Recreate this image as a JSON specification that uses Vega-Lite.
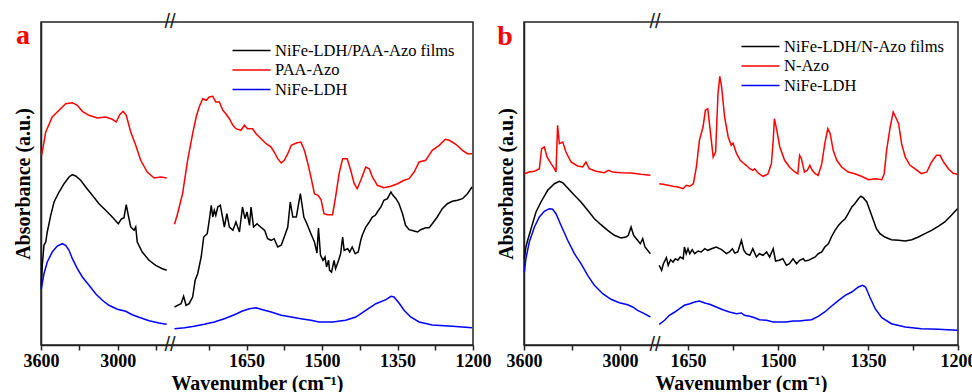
{
"$schema": "https://vega.github.io/schema/vega-lite/v6.json",
"padding": {"left": 12, "top": 11, "right": 5, "bottom": 0},
"bounds": "flush",
"spacing": 51,
"config": {
  "font": "Liberation Serif",
  "view": {"stroke": "#222", "strokeWidth": 1.5},
  "axis": {"grid": false, "labelOverlap": false, "domainColor": "#222", "domainWidth": 1.5, "tickColor": "#222", "tickWidth": 1.5, "labelFont": "Liberation Serif", "labelFontSize": 18, "labelFontWeight": "bold", "labelColor": "#000", "titleFont": "Liberation Serif", "titleFontSize": 20, "titleFontWeight": "bold", "titleColor": "#000"},
  "legend": {"symbolType": "M-2,0H2", "symbolStrokeWidth": 1.5, "symbolSize": 361, "labelFont": "Liberation Serif", "labelFontSize": 16.5, "labelColor": "#000", "labelLimit": 400, "rowPadding": 0.5, "labelOffset": 13, "padding": 0}
},
"resolve": {"scale": {"color": "independent", "x": "independent", "y": "independent"}, "legend": {"color": "independent"}},
"datasets": {
"a": [
{"s":"PAA-Azo","g":"L","x":3595,"y":189.7},{"s":"PAA-Azo","g":"L","x":3563,"y":213},{"s":"PAA-Azo","g":"L","x":3512,"y":228},{"s":"PAA-Azo","g":"L","x":3459,"y":234.7},{"s":"PAA-Azo","g":"L","x":3407,"y":241.3},{"s":"PAA-Azo","g":"L","x":3355,"y":242.3},{"s":"PAA-Azo","g":"L","x":3316,"y":239.7},{"s":"PAA-Azo","g":"L","x":3277,"y":233.7},{"s":"PAA-Azo","g":"L","x":3225,"y":229.7},{"s":"PAA-Azo","g":"L","x":3160,"y":227},{"s":"PAA-Azo","g":"L","x":3095,"y":228},{"s":"PAA-Azo","g":"L","x":3043,"y":225.7},{"s":"PAA-Azo","g":"L","x":3012,"y":223},{"s":"PAA-Azo","g":"L","x":2985,"y":230.3},{"s":"PAA-Azo","g":"L","x":2959,"y":233.7},{"s":"PAA-Azo","g":"L","x":2934,"y":229.7},{"s":"PAA-Azo","g":"L","x":2899,"y":213},{"s":"PAA-Azo","g":"L","x":2860,"y":199.7},{"s":"PAA-Azo","g":"L","x":2821,"y":184.7},{"s":"PAA-Azo","g":"L","x":2770,"y":173},{"s":"PAA-Azo","g":"L","x":2716,"y":167},{"s":"PAA-Azo","g":"L","x":2665,"y":168},{"s":"PAA-Azo","g":"L","x":2618,"y":167},
{"s":"PAA-Azo","g":"R","x":1793,"y":120.7},{"s":"PAA-Azo","g":"R","x":1787,"y":131.3},{"s":"PAA-Azo","g":"R","x":1777,"y":151.3},{"s":"PAA-Azo","g":"R","x":1767,"y":184.7},{"s":"PAA-Azo","g":"R","x":1757,"y":211.3},{"s":"PAA-Azo","g":"R","x":1750,"y":228},{"s":"PAA-Azo","g":"R","x":1744,"y":238},{"s":"PAA-Azo","g":"R","x":1737,"y":246.3},{"s":"PAA-Azo","g":"R","x":1730,"y":244.7},{"s":"PAA-Azo","g":"R","x":1724,"y":248},{"s":"PAA-Azo","g":"R","x":1717,"y":248.7},{"s":"PAA-Azo","g":"R","x":1711,"y":243},{"s":"PAA-Azo","g":"R","x":1704,"y":243},{"s":"PAA-Azo","g":"R","x":1697,"y":234.7},{"s":"PAA-Azo","g":"R","x":1691,"y":231.3},{"s":"PAA-Azo","g":"R","x":1684,"y":226.3},{"s":"PAA-Azo","g":"R","x":1677,"y":219.7},{"s":"PAA-Azo","g":"R","x":1671,"y":216.3},{"s":"PAA-Azo","g":"R","x":1661,"y":214.7},{"s":"PAA-Azo","g":"R","x":1654,"y":219.7},{"s":"PAA-Azo","g":"R","x":1648,"y":216.3},{"s":"PAA-Azo","g":"R","x":1638,"y":216.3},{"s":"PAA-Azo","g":"R","x":1631,"y":211.3},{"s":"PAA-Azo","g":"R","x":1621,"y":206.3},{"s":"PAA-Azo","g":"R","x":1611,"y":201.3},{"s":"PAA-Azo","g":"R","x":1601,"y":198},{"s":"PAA-Azo","g":"R","x":1595,"y":193},{"s":"PAA-Azo","g":"R","x":1588,"y":186.3},{"s":"PAA-Azo","g":"R","x":1581,"y":182},{"s":"PAA-Azo","g":"R","x":1575,"y":184.7},{"s":"PAA-Azo","g":"R","x":1568,"y":191.3},{"s":"PAA-Azo","g":"R","x":1561,"y":199.7},{"s":"PAA-Azo","g":"R","x":1551,"y":202},{"s":"PAA-Azo","g":"R","x":1542,"y":203},{"s":"PAA-Azo","g":"R","x":1535,"y":194.7},{"s":"PAA-Azo","g":"R","x":1528,"y":181.3},{"s":"PAA-Azo","g":"R","x":1522,"y":168},{"s":"PAA-Azo","g":"R","x":1515,"y":151.3},{"s":"PAA-Azo","g":"R","x":1508,"y":149.7},{"s":"PAA-Azo","g":"R","x":1502,"y":145.5},{"s":"PAA-Azo","g":"R","x":1496,"y":131.3},{"s":"PAA-Azo","g":"R","x":1489,"y":130.3},{"s":"PAA-Azo","g":"R","x":1479,"y":130.3},{"s":"PAA-Azo","g":"R","x":1473,"y":148},{"s":"PAA-Azo","g":"R","x":1466,"y":171.3},{"s":"PAA-Azo","g":"R","x":1459,"y":186.3},{"s":"PAA-Azo","g":"R","x":1450,"y":186.3},{"s":"PAA-Azo","g":"R","x":1443,"y":174.7},{"s":"PAA-Azo","g":"R","x":1436,"y":161.3},{"s":"PAA-Azo","g":"R","x":1430,"y":156.3},{"s":"PAA-Azo","g":"R","x":1423,"y":164.7},{"s":"PAA-Azo","g":"R","x":1413,"y":178},{"s":"PAA-Azo","g":"R","x":1406,"y":176.3},{"s":"PAA-Azo","g":"R","x":1400,"y":168},{"s":"PAA-Azo","g":"R","x":1390,"y":159.7},{"s":"PAA-Azo","g":"R","x":1377,"y":157.3},{"s":"PAA-Azo","g":"R","x":1363,"y":158.7},{"s":"PAA-Azo","g":"R","x":1350,"y":161.3},{"s":"PAA-Azo","g":"R","x":1337,"y":164.7},{"s":"PAA-Azo","g":"R","x":1327,"y":166.3},{"s":"PAA-Azo","g":"R","x":1317,"y":173},{"s":"PAA-Azo","g":"R","x":1307,"y":183},{"s":"PAA-Azo","g":"R","x":1294,"y":184.7},{"s":"PAA-Azo","g":"R","x":1281,"y":194.7},{"s":"PAA-Azo","g":"R","x":1267,"y":199.7},{"s":"PAA-Azo","g":"R","x":1255,"y":205.7},{"s":"PAA-Azo","g":"R","x":1247,"y":204.7},{"s":"PAA-Azo","g":"R","x":1234,"y":200.7},{"s":"PAA-Azo","g":"R","x":1221,"y":194.7},{"s":"PAA-Azo","g":"R","x":1211,"y":191.3},{"s":"PAA-Azo","g":"R","x":1202,"y":191.3},
{"s":"NiFe-LDH/PAA-Azo films","g":"L","x":3598,"y":58},{"s":"NiFe-LDH/PAA-Azo films","g":"L","x":3595,"y":66.3},{"s":"NiFe-LDH/PAA-Azo films","g":"L","x":3590,"y":79.7},{"s":"NiFe-LDH/PAA-Azo films","g":"L","x":3577,"y":99.7},{"s":"NiFe-LDH/PAA-Azo films","g":"L","x":3563,"y":103},{"s":"NiFe-LDH/PAA-Azo films","g":"L","x":3551,"y":113},{"s":"NiFe-LDH/PAA-Azo films","g":"L","x":3524,"y":129.7},{"s":"NiFe-LDH/PAA-Azo films","g":"L","x":3498,"y":143},{"s":"NiFe-LDH/PAA-Azo films","g":"L","x":3459,"y":153},{"s":"NiFe-LDH/PAA-Azo films","g":"L","x":3420,"y":161.3},{"s":"NiFe-LDH/PAA-Azo films","g":"L","x":3381,"y":168},{"s":"NiFe-LDH/PAA-Azo films","g":"L","x":3355,"y":170.3},{"s":"NiFe-LDH/PAA-Azo films","g":"L","x":3329,"y":169},{"s":"NiFe-LDH/PAA-Azo films","g":"L","x":3290,"y":164.7},{"s":"NiFe-LDH/PAA-Azo films","g":"L","x":3251,"y":158},{"s":"NiFe-LDH/PAA-Azo films","g":"L","x":3199,"y":149.7},{"s":"NiFe-LDH/PAA-Azo films","g":"L","x":3147,"y":141.3},{"s":"NiFe-LDH/PAA-Azo films","g":"L","x":3095,"y":134.7},{"s":"NiFe-LDH/PAA-Azo films","g":"L","x":3043,"y":128},{"s":"NiFe-LDH/PAA-Azo films","g":"L","x":2996,"y":121.3},{"s":"NiFe-LDH/PAA-Azo films","g":"L","x":2970,"y":126.3},{"s":"NiFe-LDH/PAA-Azo films","g":"L","x":2952,"y":127},{"s":"NiFe-LDH/PAA-Azo films","g":"L","x":2934,"y":140.3},{"s":"NiFe-LDH/PAA-Azo films","g":"L","x":2918,"y":129.7},{"s":"NiFe-LDH/PAA-Azo films","g":"L","x":2899,"y":118},{"s":"NiFe-LDH/PAA-Azo films","g":"L","x":2873,"y":114.7},{"s":"NiFe-LDH/PAA-Azo films","g":"L","x":2860,"y":118},{"s":"NiFe-LDH/PAA-Azo films","g":"L","x":2848,"y":103},{"s":"NiFe-LDH/PAA-Azo films","g":"L","x":2809,"y":93},{"s":"NiFe-LDH/PAA-Azo films","g":"L","x":2756,"y":84.7},{"s":"NiFe-LDH/PAA-Azo films","g":"L","x":2704,"y":79.7},{"s":"NiFe-LDH/PAA-Azo films","g":"L","x":2652,"y":76.3},{"s":"NiFe-LDH/PAA-Azo films","g":"L","x":2618,"y":74.7},
{"s":"NiFe-LDH/PAA-Azo films","g":"R","x":1793,"y":38},{"s":"NiFe-LDH/PAA-Azo films","g":"R","x":1787,"y":39.7},{"s":"NiFe-LDH/PAA-Azo films","g":"R","x":1780,"y":41.3},{"s":"NiFe-LDH/PAA-Azo films","g":"R","x":1775,"y":48.7},{"s":"NiFe-LDH/PAA-Azo films","g":"R","x":1770,"y":39.7},{"s":"NiFe-LDH/PAA-Azo films","g":"R","x":1764,"y":41.3},{"s":"NiFe-LDH/PAA-Azo films","g":"R","x":1757,"y":48},{"s":"NiFe-LDH/PAA-Azo films","g":"R","x":1752,"y":64.7},{"s":"NiFe-LDH/PAA-Azo films","g":"R","x":1747,"y":71.3},{"s":"NiFe-LDH/PAA-Azo films","g":"R","x":1740,"y":88},{"s":"NiFe-LDH/PAA-Azo films","g":"R","x":1735,"y":108},{"s":"NiFe-LDH/PAA-Azo films","g":"R","x":1728,"y":111.3},{"s":"NiFe-LDH/PAA-Azo films","g":"R","x":1724,"y":124.7},{"s":"NiFe-LDH/PAA-Azo films","g":"R","x":1720,"y":139.7},{"s":"NiFe-LDH/PAA-Azo films","g":"R","x":1717,"y":128},{"s":"NiFe-LDH/PAA-Azo films","g":"R","x":1714,"y":134.7},{"s":"NiFe-LDH/PAA-Azo films","g":"R","x":1711,"y":129.7},{"s":"NiFe-LDH/PAA-Azo films","g":"R","x":1707,"y":138},{"s":"NiFe-LDH/PAA-Azo films","g":"R","x":1702,"y":139.7},{"s":"NiFe-LDH/PAA-Azo films","g":"R","x":1697,"y":126.3},{"s":"NiFe-LDH/PAA-Azo films","g":"R","x":1694,"y":118},{"s":"NiFe-LDH/PAA-Azo films","g":"R","x":1689,"y":131.3},{"s":"NiFe-LDH/PAA-Azo films","g":"R","x":1684,"y":118},{"s":"NiFe-LDH/PAA-Azo films","g":"R","x":1677,"y":114.7},{"s":"NiFe-LDH/PAA-Azo films","g":"R","x":1671,"y":123},{"s":"NiFe-LDH/PAA-Azo films","g":"R","x":1664,"y":113},{"s":"NiFe-LDH/PAA-Azo films","g":"R","x":1658,"y":138},{"s":"NiFe-LDH/PAA-Azo films","g":"R","x":1653,"y":126.3},{"s":"NiFe-LDH/PAA-Azo films","g":"R","x":1649,"y":133},{"s":"NiFe-LDH/PAA-Azo films","g":"R","x":1644,"y":119.7},{"s":"NiFe-LDH/PAA-Azo films","g":"R","x":1641,"y":138},{"s":"NiFe-LDH/PAA-Azo films","g":"R","x":1636,"y":118},{"s":"NiFe-LDH/PAA-Azo films","g":"R","x":1629,"y":121.3},{"s":"NiFe-LDH/PAA-Azo films","g":"R","x":1622,"y":118},{"s":"NiFe-LDH/PAA-Azo films","g":"R","x":1614,"y":114.7},{"s":"NiFe-LDH/PAA-Azo films","g":"R","x":1608,"y":106.3},{"s":"NiFe-LDH/PAA-Azo films","g":"R","x":1601,"y":104.7},{"s":"NiFe-LDH/PAA-Azo films","g":"R","x":1595,"y":106.3},{"s":"NiFe-LDH/PAA-Azo films","g":"R","x":1588,"y":98},{"s":"NiFe-LDH/PAA-Azo films","g":"R","x":1581,"y":99.7},{"s":"NiFe-LDH/PAA-Azo films","g":"R","x":1575,"y":108},{"s":"NiFe-LDH/PAA-Azo films","g":"R","x":1568,"y":118},{"s":"NiFe-LDH/PAA-Azo films","g":"R","x":1563,"y":143},{"s":"NiFe-LDH/PAA-Azo films","g":"R","x":1558,"y":128},{"s":"NiFe-LDH/PAA-Azo films","g":"R","x":1551,"y":128},{"s":"NiFe-LDH/PAA-Azo films","g":"R","x":1543,"y":151.3},{"s":"NiFe-LDH/PAA-Azo films","g":"R","x":1536,"y":128},{"s":"NiFe-LDH/PAA-Azo films","g":"R","x":1530,"y":121.3},{"s":"NiFe-LDH/PAA-Azo films","g":"R","x":1522,"y":111.3},{"s":"NiFe-LDH/PAA-Azo films","g":"R","x":1515,"y":103},{"s":"NiFe-LDH/PAA-Azo films","g":"R","x":1510,"y":92},{"s":"NiFe-LDH/PAA-Azo films","g":"R","x":1507,"y":117},{"s":"NiFe-LDH/PAA-Azo films","g":"R","x":1503,"y":90},{"s":"NiFe-LDH/PAA-Azo films","g":"R","x":1498,"y":84.7},{"s":"NiFe-LDH/PAA-Azo films","g":"R","x":1494,"y":88},{"s":"NiFe-LDH/PAA-Azo films","g":"R","x":1491,"y":78},{"s":"NiFe-LDH/PAA-Azo films","g":"R","x":1487,"y":84.7},{"s":"NiFe-LDH/PAA-Azo films","g":"R","x":1485,"y":74.7},{"s":"NiFe-LDH/PAA-Azo films","g":"R","x":1481,"y":73},{"s":"NiFe-LDH/PAA-Azo films","g":"R","x":1476,"y":84.7},{"s":"NiFe-LDH/PAA-Azo films","g":"R","x":1473,"y":76.3},{"s":"NiFe-LDH/PAA-Azo films","g":"R","x":1467,"y":84.7},{"s":"NiFe-LDH/PAA-Azo films","g":"R","x":1463,"y":91.3},{"s":"NiFe-LDH/PAA-Azo films","g":"R","x":1459,"y":108},{"s":"NiFe-LDH/PAA-Azo films","g":"R","x":1456,"y":94.7},{"s":"NiFe-LDH/PAA-Azo films","g":"R","x":1449,"y":96.3},{"s":"NiFe-LDH/PAA-Azo films","g":"R","x":1445,"y":93},{"s":"NiFe-LDH/PAA-Azo films","g":"R","x":1440,"y":98},{"s":"NiFe-LDH/PAA-Azo films","g":"R","x":1434,"y":91.3},{"s":"NiFe-LDH/PAA-Azo films","g":"R","x":1428,"y":93},{"s":"NiFe-LDH/PAA-Azo films","g":"R","x":1423,"y":104.7},{"s":"NiFe-LDH/PAA-Azo films","g":"R","x":1420,"y":109.7},{"s":"NiFe-LDH/PAA-Azo films","g":"R","x":1413,"y":118},{"s":"NiFe-LDH/PAA-Azo films","g":"R","x":1406,"y":123},{"s":"NiFe-LDH/PAA-Azo films","g":"R","x":1400,"y":128},{"s":"NiFe-LDH/PAA-Azo films","g":"R","x":1394,"y":129.7},{"s":"NiFe-LDH/PAA-Azo films","g":"R","x":1390,"y":133},{"s":"NiFe-LDH/PAA-Azo films","g":"R","x":1383,"y":138},{"s":"NiFe-LDH/PAA-Azo films","g":"R","x":1377,"y":144.7},{"s":"NiFe-LDH/PAA-Azo films","g":"R","x":1370,"y":146.3},{"s":"NiFe-LDH/PAA-Azo films","g":"R","x":1363,"y":153},{"s":"NiFe-LDH/PAA-Azo films","g":"R","x":1359,"y":149.7},{"s":"NiFe-LDH/PAA-Azo films","g":"R","x":1353,"y":146.3},{"s":"NiFe-LDH/PAA-Azo films","g":"R","x":1347,"y":141.3},{"s":"NiFe-LDH/PAA-Azo films","g":"R","x":1340,"y":131.3},{"s":"NiFe-LDH/PAA-Azo films","g":"R","x":1334,"y":119.7},{"s":"NiFe-LDH/PAA-Azo films","g":"R","x":1327,"y":115.3},{"s":"NiFe-LDH/PAA-Azo films","g":"R","x":1317,"y":114},{"s":"NiFe-LDH/PAA-Azo films","g":"R","x":1310,"y":113},{"s":"NiFe-LDH/PAA-Azo films","g":"R","x":1304,"y":115.3},{"s":"NiFe-LDH/PAA-Azo films","g":"R","x":1294,"y":117.3},{"s":"NiFe-LDH/PAA-Azo films","g":"R","x":1287,"y":117.3},{"s":"NiFe-LDH/PAA-Azo films","g":"R","x":1281,"y":121.3},{"s":"NiFe-LDH/PAA-Azo films","g":"R","x":1271,"y":128},{"s":"NiFe-LDH/PAA-Azo films","g":"R","x":1261,"y":136.3},{"s":"NiFe-LDH/PAA-Azo films","g":"R","x":1251,"y":141.3},{"s":"NiFe-LDH/PAA-Azo films","g":"R","x":1241,"y":143.7},{"s":"NiFe-LDH/PAA-Azo films","g":"R","x":1231,"y":144.7},{"s":"NiFe-LDH/PAA-Azo films","g":"R","x":1221,"y":146.3},{"s":"NiFe-LDH/PAA-Azo films","g":"R","x":1211,"y":151.3},{"s":"NiFe-LDH/PAA-Azo films","g":"R","x":1202,"y":158},
{"s":"NiFe-LDH","g":"L","x":3598,"y":56},{"s":"NiFe-LDH","g":"L","x":3577,"y":71.3},{"s":"NiFe-LDH","g":"L","x":3551,"y":83},{"s":"NiFe-LDH","g":"L","x":3512,"y":93},{"s":"NiFe-LDH","g":"L","x":3473,"y":99},{"s":"NiFe-LDH","g":"L","x":3434,"y":101.3},{"s":"NiFe-LDH","g":"L","x":3407,"y":99.7},{"s":"NiFe-LDH","g":"L","x":3381,"y":94.7},{"s":"NiFe-LDH","g":"L","x":3355,"y":86.3},{"s":"NiFe-LDH","g":"L","x":3316,"y":76.3},{"s":"NiFe-LDH","g":"L","x":3277,"y":68},{"s":"NiFe-LDH","g":"L","x":3225,"y":59.7},{"s":"NiFe-LDH","g":"L","x":3173,"y":51.3},{"s":"NiFe-LDH","g":"L","x":3121,"y":44.7},{"s":"NiFe-LDH","g":"L","x":3069,"y":39.7},{"s":"NiFe-LDH","g":"L","x":3004,"y":35.7},{"s":"NiFe-LDH","g":"L","x":2938,"y":33.7},{"s":"NiFe-LDH","g":"L","x":2887,"y":30.3},{"s":"NiFe-LDH","g":"L","x":2834,"y":27.7},{"s":"NiFe-LDH","g":"L","x":2756,"y":24.3},{"s":"NiFe-LDH","g":"L","x":2678,"y":22},{"s":"NiFe-LDH","g":"L","x":2618,"y":20.7},
{"s":"NiFe-LDH","g":"R","x":1793,"y":16.3},{"s":"NiFe-LDH","g":"R","x":1773,"y":17.3},{"s":"NiFe-LDH","g":"R","x":1754,"y":18.7},{"s":"NiFe-LDH","g":"R","x":1734,"y":20.7},{"s":"NiFe-LDH","g":"R","x":1714,"y":23},{"s":"NiFe-LDH","g":"R","x":1694,"y":26.3},{"s":"NiFe-LDH","g":"R","x":1674,"y":30.3},{"s":"NiFe-LDH","g":"R","x":1658,"y":34},{"s":"NiFe-LDH","g":"R","x":1644,"y":36.3},{"s":"NiFe-LDH","g":"R","x":1631,"y":37.3},{"s":"NiFe-LDH","g":"R","x":1618,"y":35.3},{"s":"NiFe-LDH","g":"R","x":1601,"y":33},{"s":"NiFe-LDH","g":"R","x":1581,"y":29.7},{"s":"NiFe-LDH","g":"R","x":1561,"y":28},{"s":"NiFe-LDH","g":"R","x":1542,"y":26.3},{"s":"NiFe-LDH","g":"R","x":1522,"y":24.7},{"s":"NiFe-LDH","g":"R","x":1506,"y":23},{"s":"NiFe-LDH","g":"R","x":1479,"y":23},{"s":"NiFe-LDH","g":"R","x":1453,"y":24.7},{"s":"NiFe-LDH","g":"R","x":1433,"y":28},{"s":"NiFe-LDH","g":"R","x":1413,"y":34.7},{"s":"NiFe-LDH","g":"R","x":1393,"y":41.3},{"s":"NiFe-LDH","g":"R","x":1373,"y":45.3},{"s":"NiFe-LDH","g":"R","x":1363,"y":48.7},{"s":"NiFe-LDH","g":"R","x":1357,"y":48},{"s":"NiFe-LDH","g":"R","x":1347,"y":42},{"s":"NiFe-LDH","g":"R","x":1337,"y":34.7},{"s":"NiFe-LDH","g":"R","x":1324,"y":28},{"s":"NiFe-LDH","g":"R","x":1307,"y":23},{"s":"NiFe-LDH","g":"R","x":1281,"y":20},{"s":"NiFe-LDH","g":"R","x":1241,"y":18.7},{"s":"NiFe-LDH","g":"R","x":1202,"y":17.3}
],
"b": [
{"s":"N-Azo","g":"L","x":3598,"y":171.3},{"s":"N-Azo","g":"L","x":3567,"y":173},{"s":"N-Azo","g":"L","x":3535,"y":173.7},{"s":"N-Azo","g":"L","x":3504,"y":176.3},{"s":"N-Azo","g":"L","x":3490,"y":196.3},{"s":"N-Azo","g":"L","x":3473,"y":198},{"s":"N-Azo","g":"L","x":3456,"y":188},{"s":"N-Azo","g":"L","x":3431,"y":181.3},{"s":"N-Azo","g":"L","x":3410,"y":176.3},{"s":"N-Azo","g":"L","x":3400,"y":173},{"s":"N-Azo","g":"L","x":3390,"y":219.7},{"s":"N-Azo","g":"L","x":3379,"y":201.3},{"s":"N-Azo","g":"L","x":3358,"y":203},{"s":"N-Azo","g":"L","x":3338,"y":193},{"s":"N-Azo","g":"L","x":3306,"y":183},{"s":"N-Azo","g":"L","x":3265,"y":179},{"s":"N-Azo","g":"L","x":3233,"y":178},{"s":"N-Azo","g":"L","x":3213,"y":183},{"s":"N-Azo","g":"L","x":3192,"y":176.3},{"s":"N-Azo","g":"L","x":3150,"y":173.7},{"s":"N-Azo","g":"L","x":3098,"y":172.3},{"s":"N-Azo","g":"L","x":3073,"y":174.7},{"s":"N-Azo","g":"L","x":3046,"y":173},{"s":"N-Azo","g":"L","x":2994,"y":172.3},{"s":"N-Azo","g":"L","x":2931,"y":172},{"s":"N-Azo","g":"L","x":2869,"y":170.7},{"s":"N-Azo","g":"L","x":2810,"y":169.7},
{"s":"N-Azo","g":"R","x":1698,"y":161.3},{"s":"N-Azo","g":"R","x":1692,"y":160.7},{"s":"N-Azo","g":"R","x":1683,"y":159.7},{"s":"N-Azo","g":"R","x":1675,"y":158.7},{"s":"N-Azo","g":"R","x":1667,"y":158},{"s":"N-Azo","g":"R","x":1658,"y":156.3},{"s":"N-Azo","g":"R","x":1653,"y":159.7},{"s":"N-Azo","g":"R","x":1647,"y":158.7},{"s":"N-Azo","g":"R","x":1641,"y":161.3},{"s":"N-Azo","g":"R","x":1636,"y":178},{"s":"N-Azo","g":"R","x":1631,"y":204.7},{"s":"N-Azo","g":"R","x":1625,"y":218},{"s":"N-Azo","g":"R","x":1621,"y":234.7},{"s":"N-Azo","g":"R","x":1617,"y":236.3},{"s":"N-Azo","g":"R","x":1613,"y":214.7},{"s":"N-Azo","g":"R","x":1608,"y":188},{"s":"N-Azo","g":"R","x":1604,"y":193},{"s":"N-Azo","g":"R","x":1600,"y":251.3},{"s":"N-Azo","g":"R","x":1597,"y":268.7},{"s":"N-Azo","g":"R","x":1594,"y":258},{"s":"N-Azo","g":"R","x":1589,"y":228},{"s":"N-Azo","g":"R","x":1583,"y":208},{"s":"N-Azo","g":"R","x":1578,"y":199.7},{"s":"N-Azo","g":"R","x":1575,"y":202},{"s":"N-Azo","g":"R","x":1569,"y":191.3},{"s":"N-Azo","g":"R","x":1563,"y":184.7},{"s":"N-Azo","g":"R","x":1558,"y":182},{"s":"N-Azo","g":"R","x":1553,"y":179.7},{"s":"N-Azo","g":"R","x":1547,"y":176.3},{"s":"N-Azo","g":"R","x":1542,"y":174.7},{"s":"N-Azo","g":"R","x":1539,"y":176.3},{"s":"N-Azo","g":"R","x":1533,"y":172},{"s":"N-Azo","g":"R","x":1525,"y":168.7},{"s":"N-Azo","g":"R","x":1517,"y":170.7},{"s":"N-Azo","g":"R","x":1511,"y":181.3},{"s":"N-Azo","g":"R","x":1508,"y":204.7},{"s":"N-Azo","g":"R","x":1506,"y":226.3},{"s":"N-Azo","g":"R","x":1502,"y":214.7},{"s":"N-Azo","g":"R","x":1497,"y":198},{"s":"N-Azo","g":"R","x":1489,"y":184.7},{"s":"N-Azo","g":"R","x":1481,"y":178},{"s":"N-Azo","g":"R","x":1472,"y":173},{"s":"N-Azo","g":"R","x":1467,"y":171.3},{"s":"N-Azo","g":"R","x":1464,"y":189.7},{"s":"N-Azo","g":"R","x":1461,"y":186.3},{"s":"N-Azo","g":"R","x":1456,"y":173},{"s":"N-Azo","g":"R","x":1451,"y":174.7},{"s":"N-Azo","g":"R","x":1447,"y":179.7},{"s":"N-Azo","g":"R","x":1443,"y":174.7},{"s":"N-Azo","g":"R","x":1438,"y":171.3},{"s":"N-Azo","g":"R","x":1433,"y":169.7},{"s":"N-Azo","g":"R","x":1427,"y":181.3},{"s":"N-Azo","g":"R","x":1422,"y":201.3},{"s":"N-Azo","g":"R","x":1417,"y":216.3},{"s":"N-Azo","g":"R","x":1413,"y":211.3},{"s":"N-Azo","g":"R","x":1408,"y":194.7},{"s":"N-Azo","g":"R","x":1402,"y":184.7},{"s":"N-Azo","g":"R","x":1394,"y":178},{"s":"N-Azo","g":"R","x":1383,"y":173},{"s":"N-Azo","g":"R","x":1372,"y":171.3},{"s":"N-Azo","g":"R","x":1361,"y":168.7},{"s":"N-Azo","g":"R","x":1349,"y":165.3},{"s":"N-Azo","g":"R","x":1338,"y":166.3},{"s":"N-Azo","g":"R","x":1327,"y":165.3},{"s":"N-Azo","g":"R","x":1323,"y":171.3},{"s":"N-Azo","g":"R","x":1319,"y":194.7},{"s":"N-Azo","g":"R","x":1313,"y":218},{"s":"N-Azo","g":"R","x":1308,"y":233},{"s":"N-Azo","g":"R","x":1304,"y":228},{"s":"N-Azo","g":"R","x":1299,"y":221.3},{"s":"N-Azo","g":"R","x":1294,"y":201.3},{"s":"N-Azo","g":"R","x":1288,"y":188},{"s":"N-Azo","g":"R","x":1280,"y":179.7},{"s":"N-Azo","g":"R","x":1272,"y":176.3},{"s":"N-Azo","g":"R","x":1261,"y":171.3},{"s":"N-Azo","g":"R","x":1252,"y":173},{"s":"N-Azo","g":"R","x":1244,"y":183},{"s":"N-Azo","g":"R","x":1236,"y":189.7},{"s":"N-Azo","g":"R","x":1230,"y":189.7},{"s":"N-Azo","g":"R","x":1224,"y":183},{"s":"N-Azo","g":"R","x":1216,"y":176.3},{"s":"N-Azo","g":"R","x":1208,"y":171.7},{"s":"N-Azo","g":"R","x":1201,"y":170.7},
{"s":"NiFe-LDH/N-Azo films","g":"L","x":3598,"y":86.3},{"s":"NiFe-LDH/N-Azo films","g":"L","x":3588,"y":98},{"s":"NiFe-LDH/N-Azo films","g":"L","x":3577,"y":104.7},{"s":"NiFe-LDH/N-Azo films","g":"L","x":3556,"y":116.3},{"s":"NiFe-LDH/N-Azo films","g":"L","x":3525,"y":133},{"s":"NiFe-LDH/N-Azo films","g":"L","x":3494,"y":143},{"s":"NiFe-LDH/N-Azo films","g":"L","x":3452,"y":154.7},{"s":"NiFe-LDH/N-Azo films","g":"L","x":3410,"y":161.3},{"s":"NiFe-LDH/N-Azo films","g":"L","x":3379,"y":163.7},{"s":"NiFe-LDH/N-Azo films","g":"L","x":3358,"y":162.3},{"s":"NiFe-LDH/N-Azo films","g":"L","x":3327,"y":157},{"s":"NiFe-LDH/N-Azo films","g":"L","x":3285,"y":149.7},{"s":"NiFe-LDH/N-Azo films","g":"L","x":3244,"y":143},{"s":"NiFe-LDH/N-Azo films","g":"L","x":3202,"y":134.7},{"s":"NiFe-LDH/N-Azo films","g":"L","x":3160,"y":126.3},{"s":"NiFe-LDH/N-Azo films","g":"L","x":3119,"y":120.3},{"s":"NiFe-LDH/N-Azo films","g":"L","x":3077,"y":114.7},{"s":"NiFe-LDH/N-Azo films","g":"L","x":3035,"y":109.7},{"s":"NiFe-LDH/N-Azo films","g":"L","x":2994,"y":107},{"s":"NiFe-LDH/N-Azo films","g":"L","x":2962,"y":108},{"s":"NiFe-LDH/N-Azo films","g":"L","x":2948,"y":109.7},{"s":"NiFe-LDH/N-Azo films","g":"L","x":2931,"y":118},{"s":"NiFe-LDH/N-Azo films","g":"L","x":2915,"y":109.7},{"s":"NiFe-LDH/N-Azo films","g":"L","x":2890,"y":104.7},{"s":"NiFe-LDH/N-Azo films","g":"L","x":2873,"y":101.3},{"s":"NiFe-LDH/N-Azo films","g":"L","x":2858,"y":106.3},{"s":"NiFe-LDH/N-Azo films","g":"L","x":2844,"y":98},{"s":"NiFe-LDH/N-Azo films","g":"L","x":2810,"y":91.3},
{"s":"NiFe-LDH/N-Azo films","g":"R","x":1698,"y":79.7},{"s":"NiFe-LDH/N-Azo films","g":"R","x":1694,"y":74.7},{"s":"NiFe-LDH/N-Azo films","g":"R","x":1691,"y":81.3},{"s":"NiFe-LDH/N-Azo films","g":"R","x":1686,"y":87.3},{"s":"NiFe-LDH/N-Azo films","g":"R","x":1683,"y":79.7},{"s":"NiFe-LDH/N-Azo films","g":"R","x":1679,"y":85.3},{"s":"NiFe-LDH/N-Azo films","g":"R","x":1675,"y":83},{"s":"NiFe-LDH/N-Azo films","g":"R","x":1671,"y":86.3},{"s":"NiFe-LDH/N-Azo films","g":"R","x":1667,"y":84.7},{"s":"NiFe-LDH/N-Azo films","g":"R","x":1663,"y":88},{"s":"NiFe-LDH/N-Azo films","g":"R","x":1658,"y":86.3},{"s":"NiFe-LDH/N-Azo films","g":"R","x":1656,"y":98},{"s":"NiFe-LDH/N-Azo films","g":"R","x":1653,"y":91.3},{"s":"NiFe-LDH/N-Azo films","g":"R","x":1650,"y":96.3},{"s":"NiFe-LDH/N-Azo films","g":"R","x":1647,"y":91.3},{"s":"NiFe-LDH/N-Azo films","g":"R","x":1643,"y":95.3},{"s":"NiFe-LDH/N-Azo films","g":"R","x":1639,"y":91.3},{"s":"NiFe-LDH/N-Azo films","g":"R","x":1633,"y":94},{"s":"NiFe-LDH/N-Azo films","g":"R","x":1628,"y":93},{"s":"NiFe-LDH/N-Azo films","g":"R","x":1622,"y":96.3},{"s":"NiFe-LDH/N-Azo films","g":"R","x":1617,"y":94.7},{"s":"NiFe-LDH/N-Azo films","g":"R","x":1611,"y":96.3},{"s":"NiFe-LDH/N-Azo films","g":"R","x":1603,"y":98},{"s":"NiFe-LDH/N-Azo films","g":"R","x":1594,"y":95.3},{"s":"NiFe-LDH/N-Azo films","g":"R","x":1586,"y":91.3},{"s":"NiFe-LDH/N-Azo films","g":"R","x":1581,"y":93},{"s":"NiFe-LDH/N-Azo films","g":"R","x":1576,"y":96.3},{"s":"NiFe-LDH/N-Azo films","g":"R","x":1572,"y":92},{"s":"NiFe-LDH/N-Azo films","g":"R","x":1567,"y":93},{"s":"NiFe-LDH/N-Azo films","g":"R","x":1561,"y":104.7},{"s":"NiFe-LDH/N-Azo films","g":"R","x":1557,"y":94.7},{"s":"NiFe-LDH/N-Azo films","g":"R","x":1553,"y":91.3},{"s":"NiFe-LDH/N-Azo films","g":"R","x":1547,"y":89.7},{"s":"NiFe-LDH/N-Azo films","g":"R","x":1542,"y":96.3},{"s":"NiFe-LDH/N-Azo films","g":"R","x":1536,"y":88},{"s":"NiFe-LDH/N-Azo films","g":"R","x":1531,"y":91.3},{"s":"NiFe-LDH/N-Azo films","g":"R","x":1525,"y":89.7},{"s":"NiFe-LDH/N-Azo films","g":"R","x":1519,"y":93},{"s":"NiFe-LDH/N-Azo films","g":"R","x":1514,"y":88},{"s":"NiFe-LDH/N-Azo films","g":"R","x":1508,"y":96.3},{"s":"NiFe-LDH/N-Azo films","g":"R","x":1504,"y":84},{"s":"NiFe-LDH/N-Azo films","g":"R","x":1498,"y":84.7},{"s":"NiFe-LDH/N-Azo films","g":"R","x":1492,"y":86.3},{"s":"NiFe-LDH/N-Azo films","g":"R","x":1486,"y":79.7},{"s":"NiFe-LDH/N-Azo films","g":"R","x":1481,"y":81.3},{"s":"NiFe-LDH/N-Azo films","g":"R","x":1475,"y":86.3},{"s":"NiFe-LDH/N-Azo films","g":"R","x":1469,"y":81.3},{"s":"NiFe-LDH/N-Azo films","g":"R","x":1464,"y":84.7},{"s":"NiFe-LDH/N-Azo films","g":"R","x":1458,"y":86.3},{"s":"NiFe-LDH/N-Azo films","g":"R","x":1455,"y":84},{"s":"NiFe-LDH/N-Azo films","g":"R","x":1449,"y":84.7},{"s":"NiFe-LDH/N-Azo films","g":"R","x":1444,"y":86.3},{"s":"NiFe-LDH/N-Azo films","g":"R","x":1438,"y":88},{"s":"NiFe-LDH/N-Azo films","g":"R","x":1433,"y":91.3},{"s":"NiFe-LDH/N-Azo films","g":"R","x":1427,"y":93},{"s":"NiFe-LDH/N-Azo films","g":"R","x":1422,"y":98},{"s":"NiFe-LDH/N-Azo films","g":"R","x":1416,"y":101.3},{"s":"NiFe-LDH/N-Azo films","g":"R","x":1411,"y":108},{"s":"NiFe-LDH/N-Azo films","g":"R","x":1405,"y":114.7},{"s":"NiFe-LDH/N-Azo films","g":"R","x":1399,"y":119.7},{"s":"NiFe-LDH/N-Azo films","g":"R","x":1394,"y":123},{"s":"NiFe-LDH/N-Azo films","g":"R","x":1388,"y":126.3},{"s":"NiFe-LDH/N-Azo films","g":"R","x":1383,"y":131.3},{"s":"NiFe-LDH/N-Azo films","g":"R","x":1377,"y":138},{"s":"NiFe-LDH/N-Azo films","g":"R","x":1372,"y":141.3},{"s":"NiFe-LDH/N-Azo films","g":"R","x":1366,"y":146.3},{"s":"NiFe-LDH/N-Azo films","g":"R","x":1362,"y":148.7},{"s":"NiFe-LDH/N-Azo films","g":"R","x":1358,"y":147.3},{"s":"NiFe-LDH/N-Azo films","g":"R","x":1352,"y":143},{"s":"NiFe-LDH/N-Azo films","g":"R","x":1347,"y":134.7},{"s":"NiFe-LDH/N-Azo films","g":"R","x":1341,"y":124.7},{"s":"NiFe-LDH/N-Azo films","g":"R","x":1336,"y":116.3},{"s":"NiFe-LDH/N-Azo films","g":"R","x":1330,"y":111.3},{"s":"NiFe-LDH/N-Azo films","g":"R","x":1322,"y":108},{"s":"NiFe-LDH/N-Azo films","g":"R","x":1311,"y":105.3},{"s":"NiFe-LDH/N-Azo films","g":"R","x":1299,"y":104.7},{"s":"NiFe-LDH/N-Azo films","g":"R","x":1288,"y":104},{"s":"NiFe-LDH/N-Azo films","g":"R","x":1277,"y":105.3},{"s":"NiFe-LDH/N-Azo films","g":"R","x":1266,"y":108},{"s":"NiFe-LDH/N-Azo films","g":"R","x":1255,"y":111.3},{"s":"NiFe-LDH/N-Azo films","g":"R","x":1244,"y":114.7},{"s":"NiFe-LDH/N-Azo films","g":"R","x":1233,"y":118.7},{"s":"NiFe-LDH/N-Azo films","g":"R","x":1222,"y":123},{"s":"NiFe-LDH/N-Azo films","g":"R","x":1211,"y":129.7},{"s":"NiFe-LDH/N-Azo films","g":"R","x":1201,"y":136.3},
{"s":"NiFe-LDH","g":"L","x":3598,"y":73},{"s":"NiFe-LDH","g":"L","x":3588,"y":86.3},{"s":"NiFe-LDH","g":"L","x":3567,"y":103},{"s":"NiFe-LDH","g":"L","x":3535,"y":118},{"s":"NiFe-LDH","g":"L","x":3504,"y":128},{"s":"NiFe-LDH","g":"L","x":3473,"y":133.7},{"s":"NiFe-LDH","g":"L","x":3442,"y":136.3},{"s":"NiFe-LDH","g":"L","x":3421,"y":135.7},{"s":"NiFe-LDH","g":"L","x":3400,"y":131.3},{"s":"NiFe-LDH","g":"L","x":3369,"y":119.7},{"s":"NiFe-LDH","g":"L","x":3327,"y":104.7},{"s":"NiFe-LDH","g":"L","x":3285,"y":91.3},{"s":"NiFe-LDH","g":"L","x":3244,"y":81.3},{"s":"NiFe-LDH","g":"L","x":3202,"y":69.7},{"s":"NiFe-LDH","g":"L","x":3160,"y":59.7},{"s":"NiFe-LDH","g":"L","x":3108,"y":51.3},{"s":"NiFe-LDH","g":"L","x":3056,"y":45.7},{"s":"NiFe-LDH","g":"L","x":3004,"y":42.3},{"s":"NiFe-LDH","g":"L","x":2952,"y":40.3},{"s":"NiFe-LDH","g":"L","x":2921,"y":38},{"s":"NiFe-LDH","g":"L","x":2890,"y":34.7},{"s":"NiFe-LDH","g":"L","x":2848,"y":31.3},{"s":"NiFe-LDH","g":"L","x":2810,"y":28},
{"s":"NiFe-LDH","g":"R","x":1698,"y":20.7},{"s":"NiFe-LDH","g":"R","x":1689,"y":24.7},{"s":"NiFe-LDH","g":"R","x":1681,"y":29.7},{"s":"NiFe-LDH","g":"R","x":1672,"y":33},{"s":"NiFe-LDH","g":"R","x":1664,"y":36.3},{"s":"NiFe-LDH","g":"R","x":1656,"y":39.7},{"s":"NiFe-LDH","g":"R","x":1647,"y":41.3},{"s":"NiFe-LDH","g":"R","x":1639,"y":43},{"s":"NiFe-LDH","g":"R","x":1631,"y":44},{"s":"NiFe-LDH","g":"R","x":1622,"y":42},{"s":"NiFe-LDH","g":"R","x":1614,"y":40.7},{"s":"NiFe-LDH","g":"R","x":1603,"y":38},{"s":"NiFe-LDH","g":"R","x":1592,"y":35.3},{"s":"NiFe-LDH","g":"R","x":1581,"y":33},{"s":"NiFe-LDH","g":"R","x":1569,"y":31.3},{"s":"NiFe-LDH","g":"R","x":1561,"y":32},{"s":"NiFe-LDH","g":"R","x":1556,"y":29.7},{"s":"NiFe-LDH","g":"R","x":1547,"y":28.7},{"s":"NiFe-LDH","g":"R","x":1539,"y":27.3},{"s":"NiFe-LDH","g":"R","x":1531,"y":25.3},{"s":"NiFe-LDH","g":"R","x":1519,"y":24.7},{"s":"NiFe-LDH","g":"R","x":1508,"y":23},{"s":"NiFe-LDH","g":"R","x":1497,"y":23},{"s":"NiFe-LDH","g":"R","x":1486,"y":23},{"s":"NiFe-LDH","g":"R","x":1475,"y":24},{"s":"NiFe-LDH","g":"R","x":1464,"y":24},{"s":"NiFe-LDH","g":"R","x":1454,"y":24.7},{"s":"NiFe-LDH","g":"R","x":1444,"y":25.3},{"s":"NiFe-LDH","g":"R","x":1433,"y":28.7},{"s":"NiFe-LDH","g":"R","x":1422,"y":33},{"s":"NiFe-LDH","g":"R","x":1411,"y":38.7},{"s":"NiFe-LDH","g":"R","x":1399,"y":44.7},{"s":"NiFe-LDH","g":"R","x":1388,"y":49.7},{"s":"NiFe-LDH","g":"R","x":1377,"y":53},{"s":"NiFe-LDH","g":"R","x":1366,"y":58},{"s":"NiFe-LDH","g":"R","x":1359,"y":59.7},{"s":"NiFe-LDH","g":"R","x":1354,"y":58},{"s":"NiFe-LDH","g":"R","x":1347,"y":48},{"s":"NiFe-LDH","g":"R","x":1338,"y":36.3},{"s":"NiFe-LDH","g":"R","x":1327,"y":27.3},{"s":"NiFe-LDH","g":"R","x":1311,"y":21.3},{"s":"NiFe-LDH","g":"R","x":1288,"y":18},{"s":"NiFe-LDH","g":"R","x":1261,"y":16.3},{"s":"NiFe-LDH","g":"R","x":1233,"y":15.7},{"s":"NiFe-LDH","g":"R","x":1201,"y":14.7}
]
},
"hconcat": [
{
  "width": 432, "height": 323,
  "layer": [
    {"data": {"name": "a"},
     "mark": {"type": "line", "strokeWidth": 1.5},
     "encoding": {
       "x": {"field": "x", "type": "quantitative",
             "scale": {"domain": [3600, 2600, 1800, 1200], "range": [0, 128, 130, 432], "nice": false, "zero": false},
             "axis": {"title": "Wavenumber (cm⁻¹)", "values": [3600, 3300, 3000, 2700, 1725, 1650, 1575, 1500, 1425, 1350, 1275, 1200], "tickCount": 40, "format": "d", "labelExpr": "indexof([3600, 3000, 1650, 1500, 1350, 1200], datum.value) >= 0 ? datum.label : ''", "tickSize": 5, "labelPadding": 2, "titlePadding": 3, "labelFlush": false, "labelOverlap": false}},
       "y": {"field": "y", "type": "quantitative", "scale": {"domain": [0, 323], "nice": false, "zero": false},
             "axis": {"title": "Absorbance (a.u.)", "labels": false, "ticks": false, "titlePadding": 8}},
       "color": {"field": "s", "type": "nominal",
                 "scale": {"domain": ["NiFe-LDH/PAA-Azo films", "PAA-Azo", "NiFe-LDH"], "range": ["#000000", "#ff0000", "#0000ff"]},
                 "legend": {"title": null, "orient": "top-right", "offset": 18}},
       "detail": {"field": "g", "type": "nominal"}
     }},
    {"data": {"values": [{"t": "a"}]},
     "mark": {"type": "text", "color": "#ff0000", "fontSize": 28, "fontWeight": "bold", "font": "Liberation Serif", "align": "center", "baseline": "alphabetic", "dx": -18, "dy": 22},
     "encoding": {"x": {"datum": 3600}, "y": {"datum": 323}, "text": {"field": "t"}}},
    {"data": {"values": [{"t": "//"}]},
     "mark": {"type": "text", "fontSize": 20, "font": "Liberation Sans", "color": "#222", "baseline": "middle"},
     "encoding": {"x": {"datum": 2200}, "y": {"datum": 323}, "text": {"field": "t"}}},
    {"data": {"values": [{"t": "//"}]},
     "mark": {"type": "text", "fontSize": 20, "font": "Liberation Sans", "color": "#222", "baseline": "middle"},
     "encoding": {"x": {"datum": 2200}, "y": {"datum": 0}, "text": {"field": "t"}}}
  ]
},
{
  "width": 434, "height": 323,
  "layer": [
    {"data": {"name": "b"},
     "mark": {"type": "line", "strokeWidth": 1.5},
     "encoding": {
       "x": {"field": "x", "type": "quantitative",
             "scale": {"domain": [3600, 2800, 1700, 1200], "range": [0, 128, 134, 434], "nice": false, "zero": false},
             "axis": {"title": "Wavenumber (cm⁻¹)", "values": [3600, 3300, 3000, 1650, 1575, 1500, 1425, 1350, 1275, 1200], "tickCount": 40, "format": "d", "labelExpr": "indexof([3600, 3000, 1650, 1500, 1350, 1200], datum.value) >= 0 ? datum.label : ''", "tickSize": 5, "labelPadding": 2, "titlePadding": 3, "labelFlush": false, "labelOverlap": false}},
       "y": {"field": "y", "type": "quantitative", "scale": {"domain": [0, 323], "nice": false, "zero": false},
             "axis": {"title": "Absorbance (a.u.)", "labels": false, "ticks": false, "titlePadding": 8}},
       "color": {"field": "s", "type": "nominal",
                 "scale": {"domain": ["NiFe-LDH/N-Azo films", "N-Azo", "NiFe-LDH"], "range": ["#000000", "#ff0000", "#0000ff"]},
                 "legend": {"title": null, "orient": "top-right", "offset": 14}},
       "detail": {"field": "g", "type": "nominal"}
     }},
    {"data": {"values": [{"t": "b"}]},
     "mark": {"type": "text", "color": "#ff0000", "fontSize": 28, "fontWeight": "bold", "font": "Liberation Serif", "align": "center", "baseline": "alphabetic", "dx": -19, "dy": 23},
     "encoding": {"x": {"datum": 3600}, "y": {"datum": 323}, "text": {"field": "t"}}},
    {"data": {"values": [{"t": "//"}]},
     "mark": {"type": "text", "fontSize": 20, "font": "Liberation Sans", "color": "#222", "baseline": "middle"},
     "encoding": {"x": {"datum": 2250}, "y": {"datum": 323}, "text": {"field": "t"}}},
    {"data": {"values": [{"t": "//"}]},
     "mark": {"type": "text", "fontSize": 20, "font": "Liberation Sans", "color": "#222", "baseline": "middle"},
     "encoding": {"x": {"datum": 2250}, "y": {"datum": 0}, "text": {"field": "t"}}}
  ]
}
]
}
